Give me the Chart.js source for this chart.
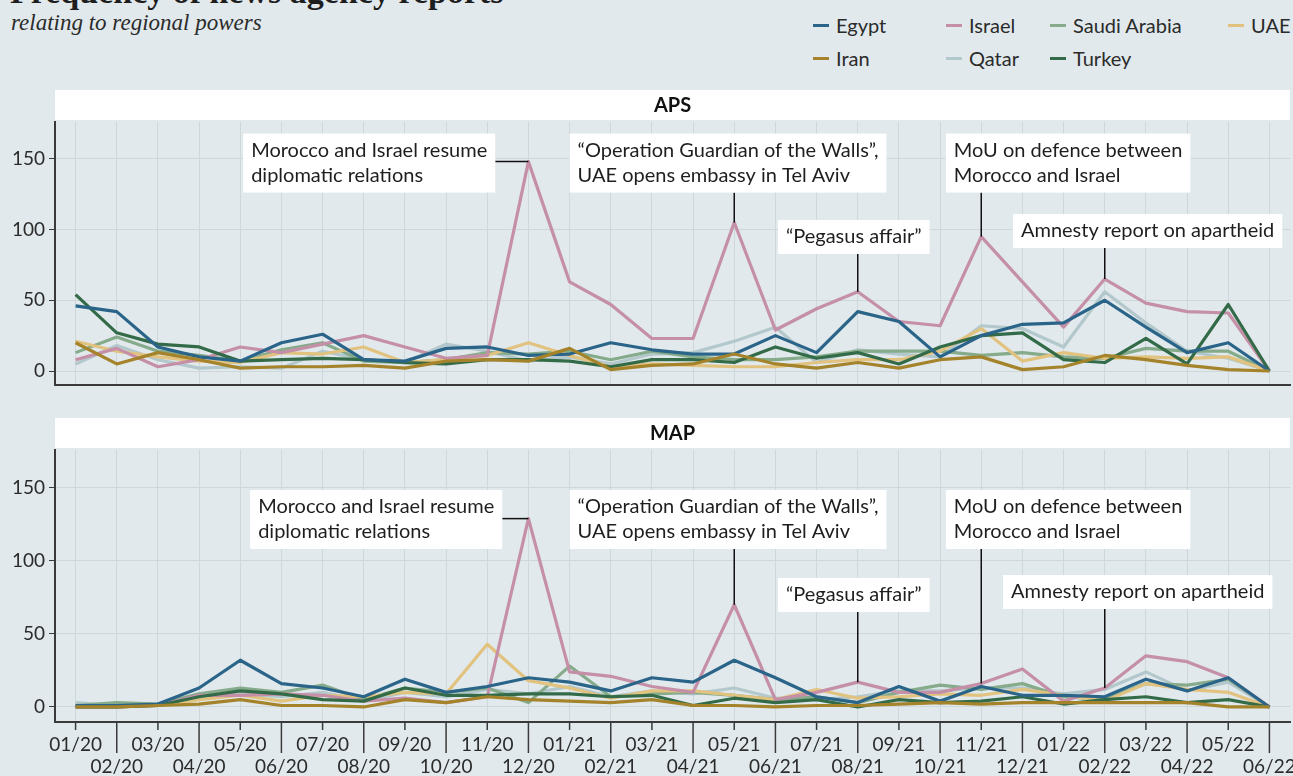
<!DOCTYPE html>
<html>
<head>
<meta charset="utf-8">
<script src="https://cdn.jsdelivr.net/npm/chart.js@4.4.1/dist/chart.umd.min.js"></script>
<style>
    body { margin: 0; width: 1293px; height: 776px; overflow: hidden; position: relative; background: #e1e9ec; font-family: "Lato", sans-serif; color: #2b2b2b; }
    .title { position: absolute; left: 10px; top: -25px; font: bold 34px/34px "Liberation Serif", serif; color: #1e1e1e; white-space: nowrap; }
    .subtitle { position: absolute; left: 11px; top: 10px; font: italic 23px/26px "Liberation Serif", serif; color: #2b2b2b; white-space: nowrap; }
    .legend-item { position: absolute; font-size: 20px; line-height: 24px; white-space: nowrap; }
    .legend-item span { display: inline-block; width: 16px; height: 3px; vertical-align: middle; margin-right: 7px; position: relative; top: -2px; }
    canvas { position: absolute; left: 0; }
    #apsChart { top: 88px; }
    #mapChart { top: 416px; }
</style>
</head>
<body>
<div class="title">Frequency of news agency reports</div>
<div class="subtitle">relating to regional powers</div>
<div id="legend"></div>
<canvas id="apsChart" width="1293" height="312"></canvas>
<canvas id="mapChart" width="1293" height="360"></canvas>

<script>
/* ================================
   Data
================================ */
const months = [
    "01/20", "02/20", "03/20", "04/20", "05/20", "06/20", "07/20", "08/20", "09/20", "10/20",
    "11/20", "12/20", "01/21", "02/21", "03/21", "04/21", "05/21", "06/21", "07/21", "08/21",
    "09/21", "10/21", "11/21", "12/21", "01/22", "02/22", "03/22", "04/22", "05/22", "06/22"
];
const yTicks = [0, 50, 100, 150];

// APS
const egyptAPS  = [46, 42, 17, 10, 7, 20, 26, 8, 7, 16, 17, 11, 12, 20, 15, 12, 12, 25, 13, 42, 35, 10, 25, 33, 34, 50, 31, 13, 20, 0];
const iranAPS   = [20, 5, 13, 8, 2, 3, 3, 4, 2, 7, 8, 7, 16, 1, 4, 5, 12, 5, 2, 6, 2, 8, 10, 1, 3, 11, 8, 4, 1, 0];
const israelAPS = [8, 16, 3, 8, 17, 13, 19, 25, 17, 9, 11, 148, 63, 47, 23, 23, 105, 29, 44, 56, 35, 32, 95, 63, 31, 65, 48, 42, 41, 0];
const qatarAPS  = [5, 18, 8, 2, 3, 2, 14, 8, 6, 19, 14, 7, 10, 5, 12, 13, 21, 31, 6, 15, 12, 10, 32, 30, 17, 56, 34, 14, 9, 0];
const saudiAPS  = [13, 24, 14, 11, 7, 15, 20, 7, 6, 8, 13, 12, 14, 8, 14, 10, 8, 8, 10, 14, 14, 14, 11, 13, 10, 9, 16, 14, 14, 0];
const turkeyAPS = [54, 27, 19, 17, 7, 8, 9, 8, 6, 5, 8, 8, 7, 3, 8, 8, 6, 17, 9, 13, 5, 17, 25, 27, 8, 6, 23, 5, 47, 0];
const uaeAPS    = [21, 14, 10, 7, 6, 13, 12, 17, 6, 8, 11, 20, 11, 3, 5, 4, 3, 3, 6, 8, 8, 14, 30, 7, 13, 9, 10, 9, 10, 0];

// MAP
const egyptMAP  = [1, 1, 2, 13, 32, 16, 13, 7, 19, 10, 14, 20, 17, 11, 20, 17, 32, 20, 7, 3, 14, 4, 14, 8, 8, 7, 19, 11, 20, 0];
const iranMAP   = [0, 0, 1, 2, 5, 1, 1, 0, 5, 3, 7, 5, 4, 3, 5, 1, 1, 0, 1, 1, 2, 3, 2, 3, 3, 3, 3, 3, 0, 0];
const israelMAP = [0, 0, 1, 8, 8, 9, 8, 4, 6, 3, 7, 129, 24, 21, 14, 10, 70, 5, 10, 17, 10, 10, 16, 26, 4, 13, 35, 31, 20, 0];
const qatarMAP  = [3, 1, 1, 8, 9, 7, 10, 4, 10, 7, 12, 9, 14, 7, 11, 9, 13, 6, 5, 7, 11, 11, 13, 13, 9, 12, 24, 11, 17, 0];
const saudiMAP  = [1, 3, 2, 9, 13, 10, 15, 5, 13, 10, 13, 3, 28, 7, 9, 10, 8, 5, 7, 3, 10, 15, 12, 16, 7, 5, 16, 15, 19, 0];
const turkeyMAP = [0, 0, 1, 7, 11, 9, 5, 4, 13, 8, 8, 9, 9, 7, 8, 1, 6, 3, 5, 0, 5, 3, 4, 7, 2, 5, 7, 3, 5, 0];
const uaeMAP    = [0, 0, 1, 5, 8, 4, 8, 7, 10, 9, 43, 18, 13, 6, 11, 11, 8, 5, 12, 6, 7, 9, 8, 12, 8, 4, 16, 12, 10, 0];

// Events (month index of the Israel point they refer to)
const eventTexts = [
    ["Morocco and Israel resume", "diplomatic relations"],
    ["\u201cOperation Guardian of the Walls\u201d,", "UAE opens embassy in Tel Aviv"],
    ["\u201cPegasus affair\u201d"],
    ["MoU on defence between", "Morocco and Israel"],
    ["Amnesty report on apartheid"]
];
const eventMonths = [11, 16, 19, 22, 25];

/* ================================
   Styles / layout
================================ */
const colors = {
    Egypt: "#2a6489",
    Iran: "#a4832b",
    Israel: "#c48fa7",
    Qatar: "#b3c8cc",
    "Saudi Arabia": "#85ab8b",
    Turkey: "#336b48",
    UAE: "#e2c27f"
};
const gridColor = "#ced7da";
const axisColor = "#3a3a3a";
const textColor = "#2b2b2b";

// box placement per panel: [x in months, top in counts], leader style
const apsBoxes = [[4.07, 167.8, "side"], [12.0, 167.8, "down"], [17.06, 106.8, "down"], [21.14, 167.8, "down"], [22.77, 111, "down"]];
const mapBoxes = [[4.24, 148.6, "side"], [12.0, 148.6, "down"], [17.06, 88.4, "down"], [21.14, 148.6, "down"], [22.53, 90.4, "down"]];

/* ================================
   Legend
================================ */
function buildLegend() {
    const items = [
        ["Egypt", 813, 13], ["Israel", 946, 13], ["Saudi Arabia", 1050, 13], ["UAE", 1228, 13],
        ["Iran", 813, 46], ["Qatar", 946, 46], ["Turkey", 1050, 46]
    ];
    const legend = document.getElementById("legend");
    items.forEach(([name, x, y]) => {
        const div = document.createElement("div");
        div.className = "legend-item";
        div.style.left = x + "px";
        div.style.top = y + "px";
        div.innerHTML = `<span style="background:${colors[name]}"></span>${name}`;
        legend.appendChild(div);
    });
}

/* ================================
   Plugins
================================ */
const stripPlugin = {
    id: "strip",
    beforeDraw(chart, args, opts) {
        const { ctx, chartArea } = chart;
        ctx.save();
        ctx.fillStyle = "#ffffff";
        ctx.fillRect(chartArea.left, 2, chartArea.right - chartArea.left, 30);
        ctx.fillStyle = "#111";
        ctx.font = "bold 20px Lato";
        ctx.textAlign = "center";
        ctx.textBaseline = "middle";
        ctx.fillText(opts.text, (chartArea.left + chartArea.right) / 2, 18);
        ctx.restore();
    }
};

const eventPlugin = {
    id: "events",
    afterDatasetsDraw(chart, args, opts) {
        const { ctx } = chart;
        const xs = chart.scales.x, ys = chart.scales.y;
        ctx.save();
        ctx.font = "20px Lato";
        eventTexts.forEach((lines, i) => {
            const [bx, by, kind] = opts.boxes[i];
            const m = eventMonths[i];
            const px = xs.getPixelForValue(m);
            const py = ys.getPixelForValue(opts.israel[m]);
            const left = xs.getPixelForValue(bx);
            const top = ys.getPixelForValue(by);
            const w = Math.max(...lines.map(l => ctx.measureText(l).width)) + 16;
            const h = lines.length * 25 + 9;

            ctx.strokeStyle = "#111";
            ctx.lineWidth = 1.5;
            ctx.beginPath();
            if (kind === "side") {
                ctx.moveTo(left + w, py);
                ctx.lineTo(px, py);
            } else {
                ctx.moveTo(px, top + h);
                ctx.lineTo(px, py);
            }
            ctx.stroke();

            ctx.fillStyle = "#ffffff";
            ctx.fillRect(left, top, w, h);
            ctx.fillStyle = "#1e1e1e";
            ctx.textBaseline = "middle";
            lines.forEach((l, k) => ctx.fillText(l, left + 8, top + 17 + k * 25));
        });
        ctx.restore();
    }
};

const tickPlugin = {
    id: "xticks",
    afterDraw(chart, args, opts) {
        if (!opts.show) return;
        const { ctx, chartArea } = chart;
        const xs = chart.scales.x;
        ctx.save();
        ctx.strokeStyle = axisColor;
        ctx.lineWidth = 1.5;
        months.forEach((m, i) => {
            const x = xs.getPixelForValue(i);
            ctx.beginPath();
            ctx.moveTo(x, chartArea.bottom);
            ctx.lineTo(x, chartArea.bottom + (i % 2 === 0 ? 8 : 31));
            ctx.stroke();
        });
        ctx.restore();
    }
};

/* ================================
   Panel renderer
================================ */
function makeDatasets(s) {
    // first entry is drawn on top
    return [
        ["Iran", s.iran], ["Egypt", s.egypt], ["Turkey", s.turkey], ["Israel", s.israel],
        ["UAE", s.uae], ["Saudi Arabia", s.saudi], ["Qatar", s.qatar]
    ].map(([name, data]) => ({
        label: name,
        data: data,
        borderColor: colors[name],
        backgroundColor: colors[name],
        borderWidth: 3.2,
        pointRadius: 0,
        tension: 0,
        borderJoinStyle: "round"
    }));
}

function renderPanel(id, title, series, boxes, bottomLabels) {
    const yMin = bottomLabels ? -10.3 : -9.6;
    new Chart(document.getElementById(id), {
        type: "line",
        data: { labels: months, datasets: makeDatasets(series) },
        plugins: [stripPlugin, eventPlugin, tickPlugin],
        options: {
            responsive: false,
            animation: false,
            layout: { padding: { top: 34, right: 3, left: 0, bottom: 0 } },
            plugins: {
                legend: { display: false },
                tooltip: { enabled: false },
                strip: { text: title },
                events: { boxes: boxes, israel: series.israel },
                xticks: { show: bottomLabels }
            },
            scales: {
                x: {
                    type: "category",
                    offset: true,
                    grid: { offset: false, color: gridColor, drawTicks: false },
                    border: { display: true, color: axisColor, width: 2 },
                    ticks: {
                        display: bottomLabels,
                        autoSkip: false,
                        maxRotation: 0,
                        minRotation: 0,
                        padding: 11,
                        color: textColor,
                        font: { family: "Lato", size: 19, lineHeight: 1.2 },
                        callback: (v, i) => i % 2 === 0 ? months[i] : ["", months[i]]
                    },
                    afterFit: s => {
                        s.height = bottomLabels ? 54 : 7;
                        s.paddingLeft = 0;
                        s.paddingRight = 0;
                    }
                },
                y: {
                    min: yMin,
                    max: 176,
                    afterBuildTicks: s => { s.ticks = yTicks.map(v => ({ value: v })); },
                    afterFit: s => { s.width = 55; },
                    grid: { color: gridColor, tickColor: axisColor, tickLength: 6 },
                    border: { display: true, color: axisColor, width: 2 },
                    ticks: { padding: 4, color: textColor, font: { family: "Lato", size: 19 } }
                }
            }
        }
    });
}

/* ================================
   Init
================================ */
buildLegend();
renderPanel("apsChart", "APS",
    { egypt: egyptAPS, iran: iranAPS, israel: israelAPS, qatar: qatarAPS, saudi: saudiAPS, turkey: turkeyAPS, uae: uaeAPS },
    apsBoxes, false);
renderPanel("mapChart", "MAP",
    { egypt: egyptMAP, iran: iranMAP, israel: israelMAP, qatar: qatarMAP, saudi: saudiMAP, turkey: turkeyMAP, uae: uaeMAP },
    mapBoxes, true);
</script>
</body>
</html>
